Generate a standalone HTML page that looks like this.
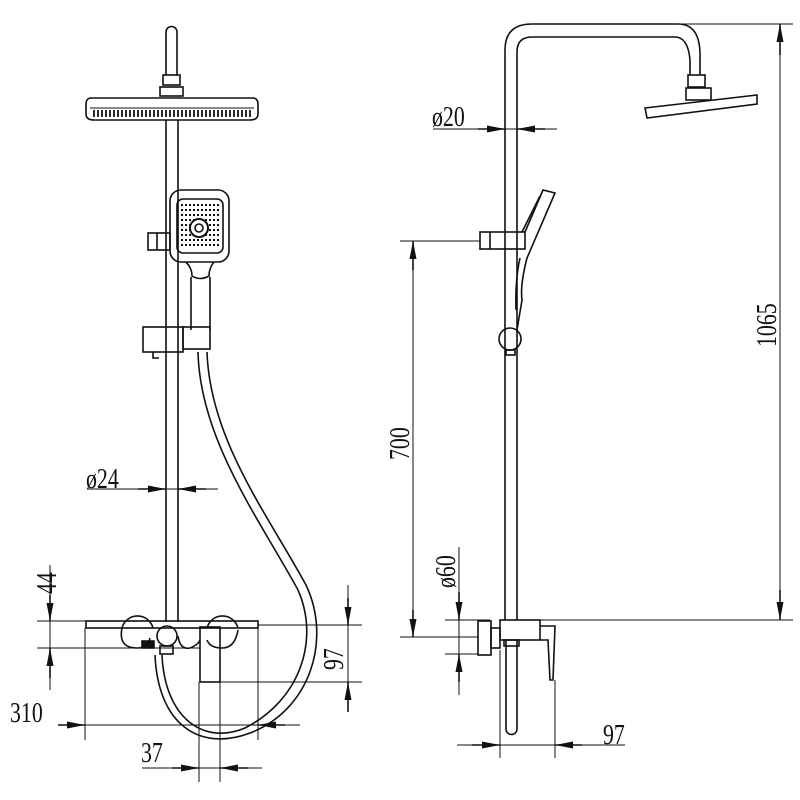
<!DOCTYPE html>
<html><head><meta charset="utf-8"><style>
html,body{margin:0;padding:0;background:#fff;}
svg{display:block;}
text{font-family:"Liberation Serif",serif;font-size:28px;fill:#111;}
</style></head><body>
<svg width="800" height="800" viewBox="0 0 800 800" xmlns="http://www.w3.org/2000/svg">
<defs>
<marker id="a" viewBox="0 0 18 7" refX="18" refY="3.5" markerWidth="18" markerHeight="7" orient="auto" markerUnits="userSpaceOnUse"><path d="M0,0 L18,3.5 L0,7 z" fill="#111"/></marker>
</defs>
<g fill="none" stroke="#111" stroke-width="1.6">
<!-- LEFT VIEW -->
<path d="M166,75 V32 a5.5,5.5 0 0 1 11,0 V75"/>
<rect x="163" y="75" width="17" height="10"/>
<rect x="160" y="87" width="23" height="9"/>
<path d="M90,98 L254,98 Q258,99 258,104 V114 Q258,120 250,120 H94 Q86,120 86,114 V104 Q86,99 90,98 Z"/>
<path d="M90,108 H254" stroke-width="1"/>
<g stroke-width="1.8">
<path d="M94,110 v7 M98,110 v7 M102,110 v7 M106,110 v7 M110,110 v7 M114,110 v7 M118,110 v7 M122,110 v7 M126,110 v7 M130,110 v7 M134,110 v7 M138,110 v7 M142,110 v7 M146,110 v7 M150,110 v7 M154,110 v7 M158,110 v7 M162,110 v7 M166,110 v7 M170,110 v7 M174,110 v7 M178,110 v7 M182,110 v7 M186,110 v7 M190,110 v7 M194,110 v7 M198,110 v7 M202,110 v7 M206,110 v7 M210,110 v7 M214,110 v7 M218,110 v7 M222,110 v7 M226,110 v7 M230,110 v7 M234,110 v7 M238,110 v7 M242,110 v7 M246,110 v7 M250,110 v7"/>
</g>
<path d="M166,120 V622 M178,120 V622"/>
<!-- handheld -->
<rect x="170" y="190" width="59" height="72" rx="11"/>
<rect x="177" y="199" width="46" height="54" rx="6"/>
<g stroke-dasharray="2 2" stroke-width="2">
<path d="M181,205 H219 M181,210 H219 M181,215 H219 M181,220 H219 M181,225 H219 M181,230 H219 M181,235 H219 M181,240 H219 M181,245 H219"/>
</g>
<circle cx="199" cy="228" r="9" stroke-width="2" fill="#fff"/>
<circle cx="199" cy="228" r="4"/>
<path d="M186,262 Q192,268 192,276 Q200,281 209,276 Q209,268 214,262"/>
<path d="M191,277 V330 M210,277 V330"/>
<rect x="148" y="233" width="22" height="17"/>
<path d="M157,233 V250"/>
<rect x="143" y="327" width="40" height="25"/>
<rect x="183" y="327" width="27" height="22"/>
<path d="M153,352 v6 h6"/>
<!-- hose -->
<path d="M198,352 C200,440 260,520 298,590 C320,640 300,700 245,728 C205,745 165,720 162,655"/>
<path d="M207,352 C210,440 268,515 306,585 C332,640 310,710 250,733 C200,752 158,725 155,655"/>
<!-- valve -->
<rect x="86" y="621" width="172" height="7"/>
<path d="M122,628 a16,16 0 0 1 31,0 M207,628 a16,16 0 0 1 31,0"/>
<path d="M122,628 Q118,648 137,648 Q148,648 150,638 M207,640 Q210,648 222,648 Q235,648 238,630"/>
<rect x="142" y="641" width="12" height="7" fill="#111"/>
<circle cx="167" cy="636" r="10"/>
<rect x="160" y="646" width="13" height="8"/>
<rect x="200" y="627" width="20" height="55"/>
<path d="M178,636 Q180,650 190,648 Q198,645 200,640"/>
<!-- dims left -->
<g stroke-width="1">
<path d="M87,489 H218"/>
<path d="M37,621 H258 M37,648 H200 M258,625 H362 M220,682 H362"/>
<path d="M85,628 V740 M258,628 V740 M199,682 V782 M220,682 V782"/>
<path d="M60,725 H300 M142,768 H262"/>
<path d="M50,565 V690 M348,585 V690"/>
</g>
<path d="M138,489 H166" marker-end="url(#a)"/><path d="M206,489 H178" marker-end="url(#a)"/>
<path d="M50,595 V621" marker-end="url(#a)"/><path d="M50,678 V648" marker-end="url(#a)"/>
<path d="M348,598 V625" marker-end="url(#a)"/><path d="M348,712 V682" marker-end="url(#a)"/>
<path d="M58,725 H85" marker-end="url(#a)"/><path d="M285,725 H258" marker-end="url(#a)"/>
<path d="M172,768 H199" marker-end="url(#a)"/><path d="M248,768 H220" marker-end="url(#a)"/>
<!-- RIGHT VIEW -->
<path d="M505,620 V50 Q505,24 532,24 H678 Q700,24 700,55 V75"/>
<path d="M517,620 V52 Q517,37 532,37 H675 Q688,37 690,60 V75"/>
<rect x="688" y="75" width="17" height="12"/>
<rect x="686" y="88" width="25" height="12"/>
<path d="M645,108 L757,95 L757,104 L647,118 Z"/>
<rect x="480" y="232" width="45" height="17"/>
<path d="M490,232 V249"/>
<path d="M525,232 L543,190 L555,193 L527,258 Q520,285 522,300 L517,330"/>
<path d="M522,232 L540,196"/>
<path d="M520,258 Q515,280 516,310"/>
<circle cx="510" cy="339" r="11"/>
<rect x="506" y="350" width="9" height="5"/>
<!-- right valve -->
<rect x="478" y="621" width="13" height="34"/>
<rect x="491" y="628" width="9" height="20"/>
<rect x="500" y="620" width="40" height="20"/>
<path d="M540,626 H555 L553,680 H550 L548,640 H540"/>
<path d="M506,640 V729 a5.5,5.5 0 0 0 11,0 V640"/>
<rect x="504" y="640" width="15" height="6"/>
<g stroke-width="1">
<path d="M680,24 H793 M517,620 H793 M780,24 V620"/>
<path d="M433,129 H557"/>
<path d="M400,241 H480 M400,637 H478 M413,241 V637"/>
<path d="M445,620 H490 M445,654 H478 M459,547 V695"/>
<path d="M457,745 H625 M500,650 V758 M555,680 V758"/>
</g>
<path d="M780,55 V24" marker-end="url(#a)"/><path d="M780,590 V620" marker-end="url(#a)"/>
<path d="M478,129 H505" marker-end="url(#a)"/><path d="M545,129 H517" marker-end="url(#a)"/>
<path d="M413,270 V241" marker-end="url(#a)"/><path d="M413,610 V637" marker-end="url(#a)"/>
<path d="M459,592 V620" marker-end="url(#a)"/><path d="M459,682 V654" marker-end="url(#a)"/>
<path d="M472,745 H500" marker-end="url(#a)"/><path d="M582,745 H555" marker-end="url(#a)"/>
</g>
<!-- labels -->
<text transform="translate(86,488) scale(0.78,1)">ø24</text>
<text transform="translate(56,594) rotate(-90) scale(0.78,1)">44</text>
<text transform="translate(343,670) rotate(-90) scale(0.78,1)">97</text>
<text transform="translate(10,722) scale(0.78,1)">310</text>
<text transform="translate(141,762) scale(0.78,1)">37</text>
<text transform="translate(432,126) scale(0.78,1)">ø20</text>
<text transform="translate(409,460) rotate(-90) scale(0.78,1)">700</text>
<text transform="translate(455,588) rotate(-90) scale(0.78,1)">ø60</text>
<text transform="translate(603,744) scale(0.78,1)">97</text>
<text transform="translate(776,347) rotate(-90) scale(0.78,1)">1065</text>
</svg>
</body></html>
